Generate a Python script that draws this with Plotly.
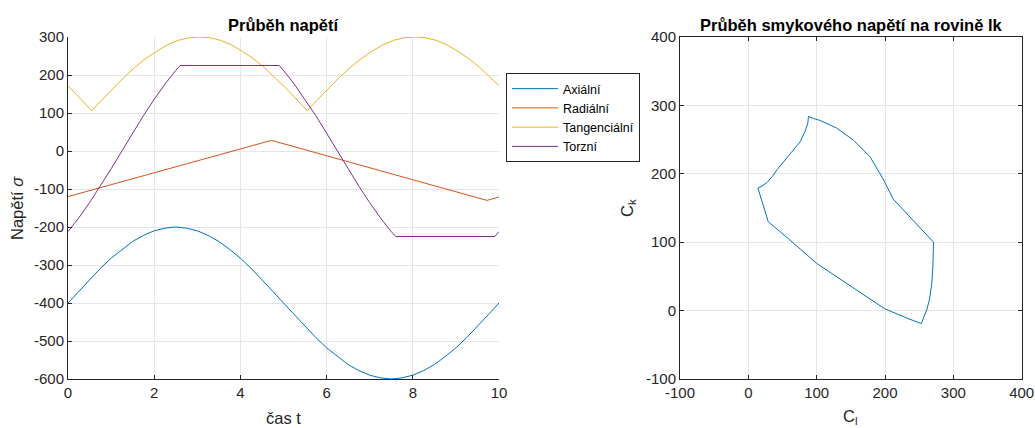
import plotly.graph_objects as go

# ---- time axis samples (s) ----
t_axial = [0, 0.25, 0.5, 0.75, 1, 1.25, 1.5, 1.75, 2, 2.25, 2.5, 2.75, 3, 3.25, 3.5, 3.75,
           4, 4.25, 4.5, 4.75, 5, 5.25, 5.5, 5.75, 6, 6.25, 6.5, 6.75, 7, 7.25, 7.5, 7.75,
           8, 8.25, 8.5, 8.75, 9, 9.25, 9.5, 9.75, 10]
axialni = [-400, -369, -338, -309, -282, -259, -238, -222, -210, -203, -200, -203, -210, -222,
           -238, -259, -282, -309, -338, -369, -400, -431, -462, -491, -518, -541, -562, -578,
           -590, -597, -600, -597, -590, -578, -562, -541, -518, -491, -462, -431, -400]

t_radial = [0, 4.72, 9.72, 10]
radialni = [-120, 28, -130, -121]

t_tang = [0, 0.25, 0.55, 0.8, 1.05, 1.3, 1.55, 1.8, 2.05, 2.3, 2.55, 2.8, 3.05, 3.3, 3.55,
          3.8, 4.05, 4.3, 4.55, 4.8, 5.05, 5.3, 5.55, 5.8, 6.05, 6.3, 6.55, 6.8, 7.05, 7.3,
          7.55, 7.8, 8.05, 8.3, 8.55, 8.8, 9.05, 9.3, 9.55, 9.8, 10]
tangencialni = [172, 142, 106, 136, 166, 194, 220, 243, 262, 279, 291, 298, 300, 298, 291,
                279, 262, 243, 220, 194, 166, 136, 106, 136, 166, 194, 220, 243, 262, 279,
                291, 298, 300, 298, 291, 279, 262, 243, 220, 194, 172]

t_torz = [0, 0.25, 0.5, 0.75, 1, 1.25, 1.5, 1.75, 2, 2.25, 2.5, 2.6, 4.9, 5, 5.25, 5.5,
          5.75, 6, 6.25, 6.5, 6.75, 7, 7.25, 7.5, 7.6, 9.9, 10]
torzni = [-212, -176, -136, -93, -47, 0, 47, 93, 136, 176, 212, 225, 225, 212, 176, 136,
          93, 47, 0, -47, -93, -136, -176, -212, -225, -225, -212]

# ---- shear stress path on plane lk ----
c_l = [14, 20, 27, 35, 42, 61, 76, 83, 87, 88, 95, 105, 129, 154, 178, 198, 212, 227, 241,
       256, 271, 270, 268.5, 265, 261, 253, 232, 199, 153, 100, 61, 37, 29, 27, 23, 20, 17, 14]
c_k = [179, 182, 187, 196, 206, 228, 247, 262, 274, 284, 281, 278, 267, 249, 225, 191, 163,
       147, 132, 115, 100, 64, 40, 16, 1, -19, -11, 3, 34, 69, 103, 123, 130, 137, 150, 162,
       172, 179]

x_ticks_left = [0, 2, 4, 6, 8, 10]
y_ticks_left = [-600, -500, -400, -300, -200, -100, 0, 100, 200, 300]
ticks_right = [-100, 0, 100, 200, 300, 400]

colors = ["#0072BD", "#D95319", "#EDB120", "#7E2F8E"]
W, H = 1035, 428
FONT = "Liberation Sans, Arial, Helvetica, sans-serif"
AX = "#262626"
GRID = "#E6E6E6"

fig = go.Figure()
series = [("Axiální", t_axial, axialni), ("Radiální", t_radial, radialni),
          ("Tangenciální", t_tang, tangencialni), ("Torzní", t_torz, torzni)]
for (name, x, y), c in zip(series, colors):
    fig.add_trace(go.Scatter(x=x, y=y, name=name, mode="lines",
                             line=dict(color=c, width=1), xaxis="x", yaxis="y"))

fig.add_trace(go.Scatter(x=c_l, y=c_k, mode="lines", showlegend=False,
                         line=dict(color=colors[0], width=1), xaxis="x2", yaxis="y2"))


def px_x(p):
    return p / W


def px_y(p):
    return 1 - p / H


def labels(vals):
    # plain hyphen-minus labels
    return [str(v) for v in vals]


common = dict(showgrid=True, gridcolor=GRID, gridwidth=1, showline=True, linecolor=AX,
              linewidth=1, ticks="inside", ticklen=4, tickcolor=AX, zeroline=False,
              automargin=False, tickfont=dict(family=FONT, size=15, color=AX))

fig.update_layout(
    template="none",
    width=W, height=H, margin=dict(l=0, r=0, t=0, b=0, autoexpand=False),
    paper_bgcolor="white", plot_bgcolor="white",
    font=dict(family=FONT, color=AX),
    xaxis=dict(domain=[px_x(68), px_x(499)], range=[0, 10], tickvals=x_ticks_left,
               ticktext=labels(x_ticks_left), anchor="y", **common),
    yaxis=dict(domain=[px_y(379), px_y(37)], range=[-600, 300], tickvals=y_ticks_left,
               ticktext=labels(y_ticks_left), anchor="x", **common),
    xaxis2=dict(domain=[px_x(680), px_x(1021.7)], range=[-100, 400], tickvals=ticks_right,
                ticktext=labels(ticks_right), anchor="y2", mirror="ticks", **common),
    yaxis2=dict(domain=[px_y(379), px_y(37)], range=[-100, 400], tickvals=ticks_right,
                ticktext=labels(ticks_right), anchor="x2", mirror="ticks", **common),
    legend=dict(x=px_x(506), y=px_y(73), xanchor="left", yanchor="top",
                bgcolor="white", bordercolor=AX, borderwidth=1, itemwidth=46,
                font=dict(family=FONT, size=12.5, color="black"), tracegroupgap=0),
)

annotations = [
    dict(text="<b>Průběh napětí</b>", x=px_x(283.5), y=px_y(25), font=dict(size=16.5, color="black")),
    dict(text="<b>Průběh smykového napětí na rovině lk</b>", x=px_x(851), y=px_y(25),
         font=dict(size=16.5, color="black")),
    dict(text="čas t", x=px_x(283.5), y=px_y(418), font=dict(size=16.5, color=AX)),
    dict(text="Napětí <i>σ</i>", x=px_x(17), y=px_y(208), textangle=-90,
         font=dict(size=16.5, color=AX)),
    dict(text="C<sub>l</sub>", x=px_x(850), y=px_y(417), font=dict(size=16.5, color=AX)),
    dict(text="C<sub>k</sub>", x=px_x(628), y=px_y(208), textangle=-90,
         font=dict(size=16.5, color=AX)),
]
for a in annotations:
    a.update(xref="paper", yref="paper", showarrow=False, xanchor="center", yanchor="middle")
    a["font"]["family"] = FONT
fig.update_layout(annotations=annotations)

fig.write_html("out.html")
